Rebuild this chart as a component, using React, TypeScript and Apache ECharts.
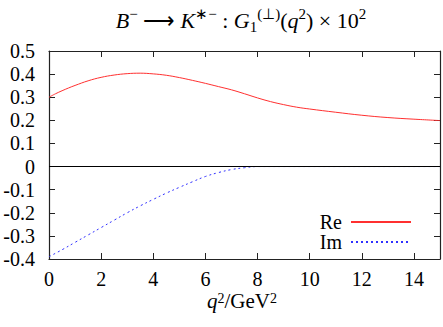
import React, { useEffect, useRef } from "react";
import * as echarts from "echarts";

const qRe = [0, 0.25, 0.5, 0.75, 1, 1.5, 2, 2.5, 3, 3.5, 4, 4.5, 5, 5.5, 6, 6.5, 7, 7.5, 8, 8.5, 9, 9.5, 10, 11, 12, 13, 14, 15];
const re = [0.3, 0.315, 0.328, 0.34, 0.351, 0.371, 0.386, 0.396, 0.402, 0.404, 0.401, 0.395, 0.385, 0.373, 0.36, 0.346, 0.332, 0.315, 0.297, 0.281, 0.268, 0.257, 0.249, 0.235, 0.222, 0.212, 0.205, 0.199];
const qIm = [0, 0.5, 1, 1.5, 2, 2.5, 3, 3.5, 4, 4.5, 5, 5.5, 6, 6.5, 7, 7.5, 8, 9, 10, 11, 12, 13, 14, 15];
const im = [-0.39, -0.36, -0.328, -0.296, -0.264, -0.232, -0.2, -0.17, -0.142, -0.115, -0.09, -0.066, -0.043, -0.026, -0.013, -0.005, 0, 0, 0, 0, 0, 0, 0, 0];
const seriesNames = ["Re", "Im"];

const FONT = "Liberation Serif";
const AX = "#222";

export default function App() {
  const ref = useRef<HTMLDivElement>(null);
  useEffect(() => {
    if (!ref.current) return;
    const chart = echarts.init(ref.current, null, { renderer: "svg" });
    const tickCommon = { show: true, inside: true, length: 6, lineStyle: { color: AX, width: 1 } };
    const main = { fontFamily: FONT, fontSize: 22, lineHeight: 28, color: "#000" };
    const ital = { ...main, fontStyle: "italic" };
    const sup = { fontFamily: FONT, fontSize: 15, lineHeight: 15, verticalAlign: "top", color: "#000" };
    const sub = { fontFamily: FONT, fontSize: 15, lineHeight: 15, verticalAlign: "bottom", color: "#000" };
    const nMain = { ...main, fontSize: 21, lineHeight: 20 };
    const nItal = { ...ital, fontSize: 21, lineHeight: 20 };
    const nSup = { ...sup, fontSize: 14, lineHeight: 12 };
    const lab = { fontFamily: FONT, fontSize: 20, lineHeight: 16, color: "#000" };
    chart.setOption({
      animation: false,
      textStyle: { fontFamily: FONT },
      grid: { left: 49, right: 3, top: 51, bottom: 68 },
      graphic: [
        {
          type: "text",
          x: 241,
          y: 20,
          style: {
            text: "{i|B}{s|−}{n| ⟶ }{i|K}{s|∗−}{n| : }{i|G}{b|1}{s|(⊥)}{n|(}{i|q}{s|2}{n|) × 10}{s|2}",
            align: "center",
            verticalAlign: "middle",
            rich: { i: ital, n: main, s: sup, b: sub },
          },
        },
        {
          type: "text",
          x: 242,
          y: 301,
          style: {
            text: "{i|q}{s|2}{n|/GeV}{s|2}",
            align: "center",
            verticalAlign: "middle",
            rich: { i: nItal, n: nMain, s: nSup },
          },
        },
      ],
      legend: {
        orient: "vertical",
        right: 26,
        top: 207,
        align: "right",
        itemWidth: 60,
        itemHeight: 14,
        itemGap: 0,
        data: seriesNames,
        itemStyle: { opacity: 0 },
        textStyle: { fontFamily: FONT, fontSize: 20, color: "#000", padding: [0, 4, 0, 0] },
      },
      xAxis: [
        {
          type: "value",
          min: 0,
          max: 15,
          interval: 2,
          axisLine: { show: true, onZero: false, lineStyle: { color: AX, width: 1.2 } },
          axisTick: tickCommon,
          splitLine: { show: false },
          axisLabel: { ...lab, margin: 12, showMaxLabel: false },
        },
        {
          type: "value",
          position: "top",
          min: 0,
          max: 15,
          interval: 2,
          axisLine: { show: true, onZero: false, lineStyle: { color: AX, width: 1.2 } },
          axisTick: tickCommon,
          splitLine: { show: false },
          axisLabel: { show: false },
        },
      ],
      yAxis: [
        {
          type: "value",
          min: -0.4,
          max: 0.5,
          interval: 0.1,
          axisLine: { show: true, onZero: false, lineStyle: { color: AX, width: 1.2 } },
          axisTick: tickCommon,
          splitLine: { show: false },
          axisLabel: {
            ...lab,
            margin: 14,
            formatter: (v: number) => String(Number(v.toFixed(1))),
          },
        },
        {
          type: "value",
          position: "right",
          min: -0.4,
          max: 0.5,
          interval: 0.1,
          axisLine: { show: true, onZero: false, lineStyle: { color: AX, width: 1.2 } },
          axisTick: tickCommon,
          splitLine: { show: false },
          axisLabel: { show: false },
        },
      ],
      series: [
        {
          name: seriesNames[0],
          type: "line",
          data: qRe.map((q, i) => [q, re[i]]),
          showSymbol: false,
          symbol: "none",
          smooth: 0.4,
          lineStyle: { color: "#ff3030", width: 1 },
          itemStyle: { color: "#ff3030" },
          markLine: {
            silent: true,
            symbol: "none",
            label: { show: false },
            lineStyle: { color: "#000", width: 1, type: "solid" },
            data: [{ yAxis: 0 }],
          },
          z: 3,
        },
        {
          name: seriesNames[1],
          type: "line",
          data: qIm.map((q, i) => [q, im[i]]),
          showSymbol: false,
          symbol: "none",
          smooth: 0.4,
          lineStyle: { color: "#3030ff", width: 1, type: [2, 3] },
          itemStyle: { color: "#3030ff" },
          z: 4,
        },
      ],
    });
    return () => chart.dispose();
  }, []);
  return <div ref={ref} style={{ width: 443, height: 327, position: "absolute", left: 0, top: 0 }} />;
}
